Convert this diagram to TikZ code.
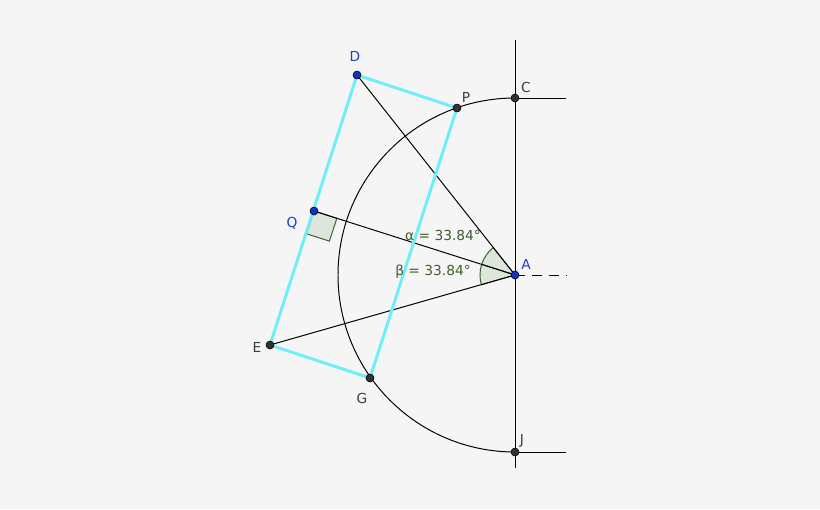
\documentclass[tikz,border=0pt]{standalone}
\usepackage{fontspec}
\setsansfont{DejaVu Sans}
\usetikzlibrary{positioning,calc,backgrounds}
\definecolor{bgcol}{RGB}{245,245,245}
\definecolor{ptgray}{RGB}{50,50,50}
\definecolor{ptblue}{RGB}{20,50,200}
\definecolor{lblblue}{RGB}{30,60,205}
\definecolor{lblgray}{RGB}{60,60,60}
\definecolor{sidecyan}{RGB}{110,238,248}
\definecolor{angfill}{RGB}{222,230,220}
\definecolor{anggreen}{RGB}{60,95,45}

\begin{document}
\begin{tikzpicture}[x=0.025cm,y=0.025cm,font=\sffamily\fontsize{9.8}{12}\selectfont]
\tikzstyle{pt} = [draw=black,fill=ptgray,circle,inner sep=0pt,minimum size=0.2cm]
\tikzstyle{bpt} = [pt,fill=ptblue]
\tikzstyle{ln} = [draw=black,line width=0.7pt]
\tikzstyle{side} = [draw=sidecyan,line width=2.1pt]
\tikzstyle{ang} = [fill=angfill,draw=anggreen,line width=0.7pt]
\tikzstyle{bl} = [text=lblblue]
\tikzstyle{gl} = [text=lblgray]
\fill[bgcol] (-515,-234) rectangle (305,275);
\useasboundingbox (-515,-234) rectangle (305,275);
\coordinate (A) at (0,0);
\coordinate (C) at (0,177);
\coordinate (J) at (0,-177);
\coordinate (D) at (-158,200);
\coordinate (P) at (-58,167);
\coordinate (Q) at (-201,64);
\coordinate (E) at (-245,-70);
\coordinate (G) at (-145,-103);
\coordinate (top) at (0,235);
\coordinate (bot) at (0,-193);
\coordinate (cend) at (51,177);
\coordinate (jend) at (51,-177);
\coordinate (aend) at (51,0);
\coordinate (qa) at ($(Q)!0.6cm!(A)$);
\coordinate (qe) at ($(Q)!0.6cm!(E)$);
\draw[ang] (A) -- (128.5:35) arc[start angle=128.5,end angle=162.3,radius=35] -- cycle;
\draw[ang] (A) -- (162.3:35) arc[start angle=162.3,end angle=196.2,radius=35] -- cycle;
\draw[ang] (Q) -- (qa) -- ($(qa)+(qe)-(Q)$) -- (qe) -- cycle;
\draw[ln] (top) -- (bot);
\draw[ln] (C) -- (cend);
\draw[ln] (J) -- (jend);
\draw[ln,dash pattern=on 7pt off 5pt] (A) -- (aend);
\draw[ln] (C) arc[start angle=90,end angle=270,radius=177];
\draw[ln] (A) -- (D);
\draw[ln] (A) -- (Q);
\draw[ln] (A) -- (E);
\draw[side] (D) -- (P) -- (G) -- (E) -- cycle;
\node[text=anggreen] (alab) at (-72,40) {α = 33.84°};
\node[text=anggreen] (blab) at (-82,3) {β = 33.84°};
\node[bpt] (Ad) at (A) {};
\node[bpt] (Dd) at (D) {};
\node[bpt] (Qd) at (Q) {};
\node[pt] (Pd) at (P) {};
\node[pt] (Cd) at (C) {};
\node[pt] (Ed) at (E) {};
\node[pt] (Gd) at (G) {};
\node[pt] (Jd) at (J) {};
\node[bl] at (-160,219) {D};
\node[gl] at (-49,178) {P};
\node[gl] at (11,188) {C};
\node[bl] at (-223,52) {Q};
\node[bl] at (11,11) {A};
\node[gl] at (-258,-72) {E};
\node[gl] at (-153,-123) {G};
\node[gl] at (7,-166) {J};
\end{tikzpicture}
\end{document}
